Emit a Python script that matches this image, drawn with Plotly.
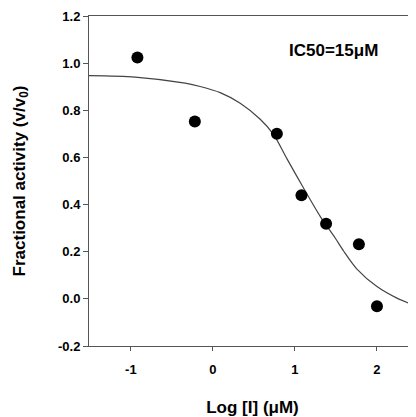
import plotly.graph_objects as go

# measured data points
log_conc = [-0.92, -0.22, 0.78, 1.08, 1.38, 1.78, 2.0]
activity = [1.024, 0.752, 0.700, 0.440, 0.319, 0.232, -0.031]

# fitted curve
curve_x = [-1.51, -0.948, -0.338, -0.155, 0.089, 0.333, 0.577, 0.739, 0.902, 1.105, 1.310, 1.491, 1.593, 1.756, 2.0, 2.244, 2.479]
curve_y = [0.947, 0.941, 0.915, 0.901, 0.875, 0.830, 0.762, 0.698, 0.595, 0.470, 0.349, 0.258, 0.203, 0.126, 0.052, 0.003, -0.030]

x_tickvals = [-1, 0, 1, 2]
x_ticktext = ["-1", "0", "1", "2"]
y_tickvals = [-0.2, 0.0, 0.2, 0.4, 0.6, 0.8, 1.0, 1.2]
y_ticktext = ["-0.2", "0.0", "0.2", "0.4", "0.6", "0.8", "1.0", "1.2"]

FONT = "Liberation Sans, Arial, sans-serif"
AX = "#555555"

fig = go.Figure()
fig.add_trace(go.Scatter(x=curve_x, y=curve_y, mode="lines",
                         line=dict(color="#444444", width=1.2, shape="spline", smoothing=0.8),
                         hoverinfo="skip"))
fig.add_trace(go.Scatter(x=log_conc, y=activity, mode="markers",
                         marker=dict(color="black", size=12, line=dict(width=0))))

fig.add_annotation(x=1.466, y=1.052, xref="x", yref="y", text="<b>IC50=15μM</b>",
                   showarrow=False, font=dict(family=FONT, size=17, color="black"))

# page body has an 8px margin, so the figure is offset by 8px
fig.update_layout(
    width=408, height=409,
    margin=dict(l=81, r=0, t=8, b=71),
    paper_bgcolor="white", plot_bgcolor="white",
    showlegend=False,
    font=dict(family=FONT, color="black"),
)
fig.update_xaxes(range=[-1.51, 2.476], tickvals=x_tickvals, ticktext=x_ticktext,
                 showgrid=False, zeroline=False, showline=True, linecolor=AX, linewidth=1,
                 mirror=True, ticks="outside", ticklen=4, tickcolor=AX,
                 ticklabelstandoff=7, automargin=False,
                 tickfont=dict(family=FONT, size=13, color="black", weight="bold"),
                 title=dict(text="<b>Log [I] (μM)</b>", font=dict(family=FONT, size=17), standoff=34))
fig.update_yaxes(range=[-0.2, 1.2], tickvals=y_tickvals, ticktext=y_ticktext,
                 showgrid=False, zeroline=False, showline=True, linecolor=AX, linewidth=1,
                 ticks="outside", ticklen=5, tickcolor=AX, automargin=False,
                 tickfont=dict(family=FONT, size=13, color="black", weight="bold"),
                 title=dict(text="<b>Fractional activity (v/v<sub>0</sub>)</b>", font=dict(family=FONT, size=17), standoff=28))

fig.write_html("out.html")
